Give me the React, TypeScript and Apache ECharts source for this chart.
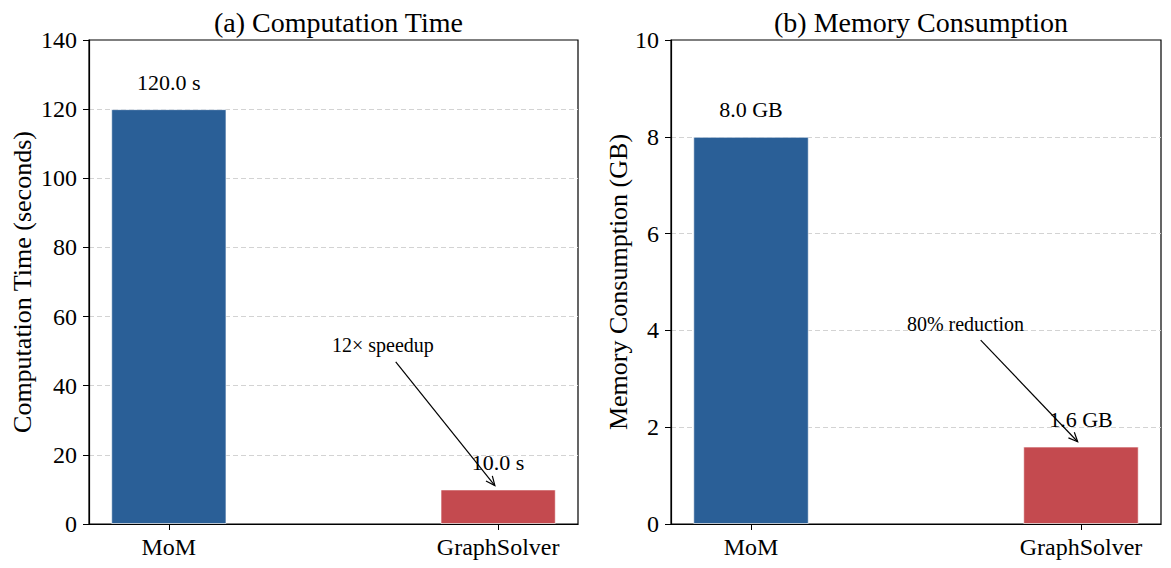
import React, { useEffect, useRef } from "react";
import * as echarts from "echarts";

const categories = ["MoM", "GraphSolver"];
const timeValues = [120.0, 10.0];
const memoryValues = [8.0, 1.6];
const barColors = ["#2A5F97", "#C44A4F"];
const timeAxis = { min: 0, max: 140, interval: 20 };
const memoryAxis = { min: 0, max: 10, interval: 2 };
const xRange = [-0.2425, 1.2425];
const categoryPositions = [0, 1];

const speedupText = "12× speedup";
const speedupNote = [0.689, 46.9, 0.99, 11.1, 0.65, 51.8];
const reductionText = "80% reduction";
const reductionNote = [0.696, 3.8, 0.99, 1.7, 0.65, 4.13];

const FONT = "'Liberation Serif', 'Times New Roman', 'DejaVu Serif', serif";

const grids = [
  { left: 89, top: 40, width: 489, height: 484 },
  { left: 671, top: 40, width: 490, height: 484 },
];

function arrowSeries(idx: number, note: number[], text: string) {
  return {
    type: "custom",
    xAxisIndex: idx,
    yAxisIndex: idx,
    z: 5,
    clip: false,
    silent: true,
    data: [note],
    renderItem: (params: any, api: any) => {
      const p0 = api.coord([api.value(0), api.value(1)]);
      const p1 = api.coord([api.value(2), api.value(3)]);
      const pt = api.coord([api.value(4), api.value(5)]);
      const ang = Math.atan2(p1[1] - p0[1], p1[0] - p0[0]);
      const L = 10;
      const a = 0.42;
      const h1 = [p1[0] - L * Math.cos(ang - a), p1[1] - L * Math.sin(ang - a)];
      const h2 = [p1[0] - L * Math.cos(ang + a), p1[1] - L * Math.sin(ang + a)];
      return {
        type: "group",
        children: [
          {
            type: "line",
            shape: { x1: p0[0], y1: p0[1], x2: p1[0], y2: p1[1] },
            style: { stroke: "#000", lineWidth: 1.2 },
          },
          {
            type: "polyline",
            shape: { points: [h1, p1, h2] },
            style: { stroke: "#000", fill: "none", lineWidth: 1.2 },
          },
          {
            type: "text",
            x: pt[0],
            y: pt[1],
            style: {
              text,
              fill: "#000",
              font: `20px ${FONT}`,
              align: "center",
              verticalAlign: "middle",
            },
          },
        ],
      };
    },
  };
}

function barSeries(idx: number, values: number[], unit: string) {
  const g = grids[idx];
  const bw = (0.35 * g.width) / (xRange[1] - xRange[0]);
  return {
    type: "bar",
    xAxisIndex: idx,
    yAxisIndex: idx,
    barWidth: bw,
    data: values.map((v, i) => ({
      value: [categoryPositions[i], v],
      itemStyle: { color: barColors[i], borderColor: "rgba(255,255,255,0.6)", borderWidth: 1 },
    })),
    label: {
      show: true,
      position: "top",
      distance: 16,
      color: "#000",
      fontFamily: FONT,
      fontSize: 22,
      formatter: (p: any) => `${p.value[1].toFixed(1)} ${unit}`,
    },
  };
}

function xAxis(idx: number) {
  return {
    type: "value",
    gridIndex: idx,
    min: xRange[0],
    max: xRange[1],
    axisLine: { show: true, onZero: false, lineStyle: { color: "#000", width: 1.2 } },
    axisTick: { show: true, customValues: categoryPositions, length: 6, lineStyle: { color: "#000", width: 1 } },
    axisLabel: {
      customValues: categoryPositions,
      formatter: (v: number) => categories[Math.round(v)] ?? "",
      color: "#000",
      fontFamily: FONT,
      fontSize: 24,
      margin: 11,
    },
    splitLine: { show: false },
  };
}

function yAxis(idx: number, ax: any, name: string, gap: number) {
  return {
    type: "value",
    gridIndex: idx,
    min: ax.min,
    max: ax.max,
    interval: ax.interval,
    name,
    nameLocation: "middle",
    nameGap: gap,
    nameTextStyle: { color: "#000", fontFamily: FONT, fontSize: 26 },
    axisLine: { show: true, onZero: false, lineStyle: { color: "#000", width: 1.2 } },
    axisTick: { show: true, length: 6, lineStyle: { color: "#000", width: 1 } },
    axisLabel: { color: "#000", fontFamily: FONT, fontSize: 24, margin: 12 },
    splitLine: {
      show: true,
      showMinLine: false,
      showMaxLine: false,
      lineStyle: { color: "#d3d3d3", width: 1, type: [5, 3] },
    },
  };
}

export default function App() {
  const ref = useRef<HTMLDivElement>(null);
  useEffect(() => {
    if (!ref.current) return;
    const chart = echarts.init(ref.current, undefined, { renderer: "svg" });
    chart.setOption({
      animation: false,
      backgroundColor: "#fff",
      title: [
        {
          text: "(a) Computation Time",
          left: grids[0].left + grids[0].width / 2,
          top: 3,
          textAlign: "center",
          textStyle: { color: "#000", fontFamily: FONT, fontSize: 28, fontWeight: "normal" },
        },
        {
          text: "(b) Memory Consumption",
          left: grids[1].left + grids[1].width / 2,
          top: 3,
          textAlign: "center",
          textStyle: { color: "#000", fontFamily: FONT, fontSize: 28, fontWeight: "normal" },
        },
      ],
      grid: grids.map((g) => ({ ...g, show: true, borderColor: "#000", borderWidth: 1.2, backgroundColor: "transparent" })),
      xAxis: [xAxis(0), xAxis(1)],
      yAxis: [
        yAxis(0, timeAxis, "Computation Time (seconds)", 54),
        yAxis(1, memoryAxis, "Memory Consumption (GB)", 38),
      ],
      series: [
        barSeries(0, timeValues, "s"),
        barSeries(1, memoryValues, "GB"),
        arrowSeries(0, speedupNote, speedupText),
        arrowSeries(1, reductionNote, reductionText),
      ],
    });
    return () => chart.dispose();
  }, []);
  return (
    <div
      ref={ref}
      style={{ position: "fixed", left: 0, top: 0, width: 1171, height: 568, background: "#fff" }}
    />
  );
}
